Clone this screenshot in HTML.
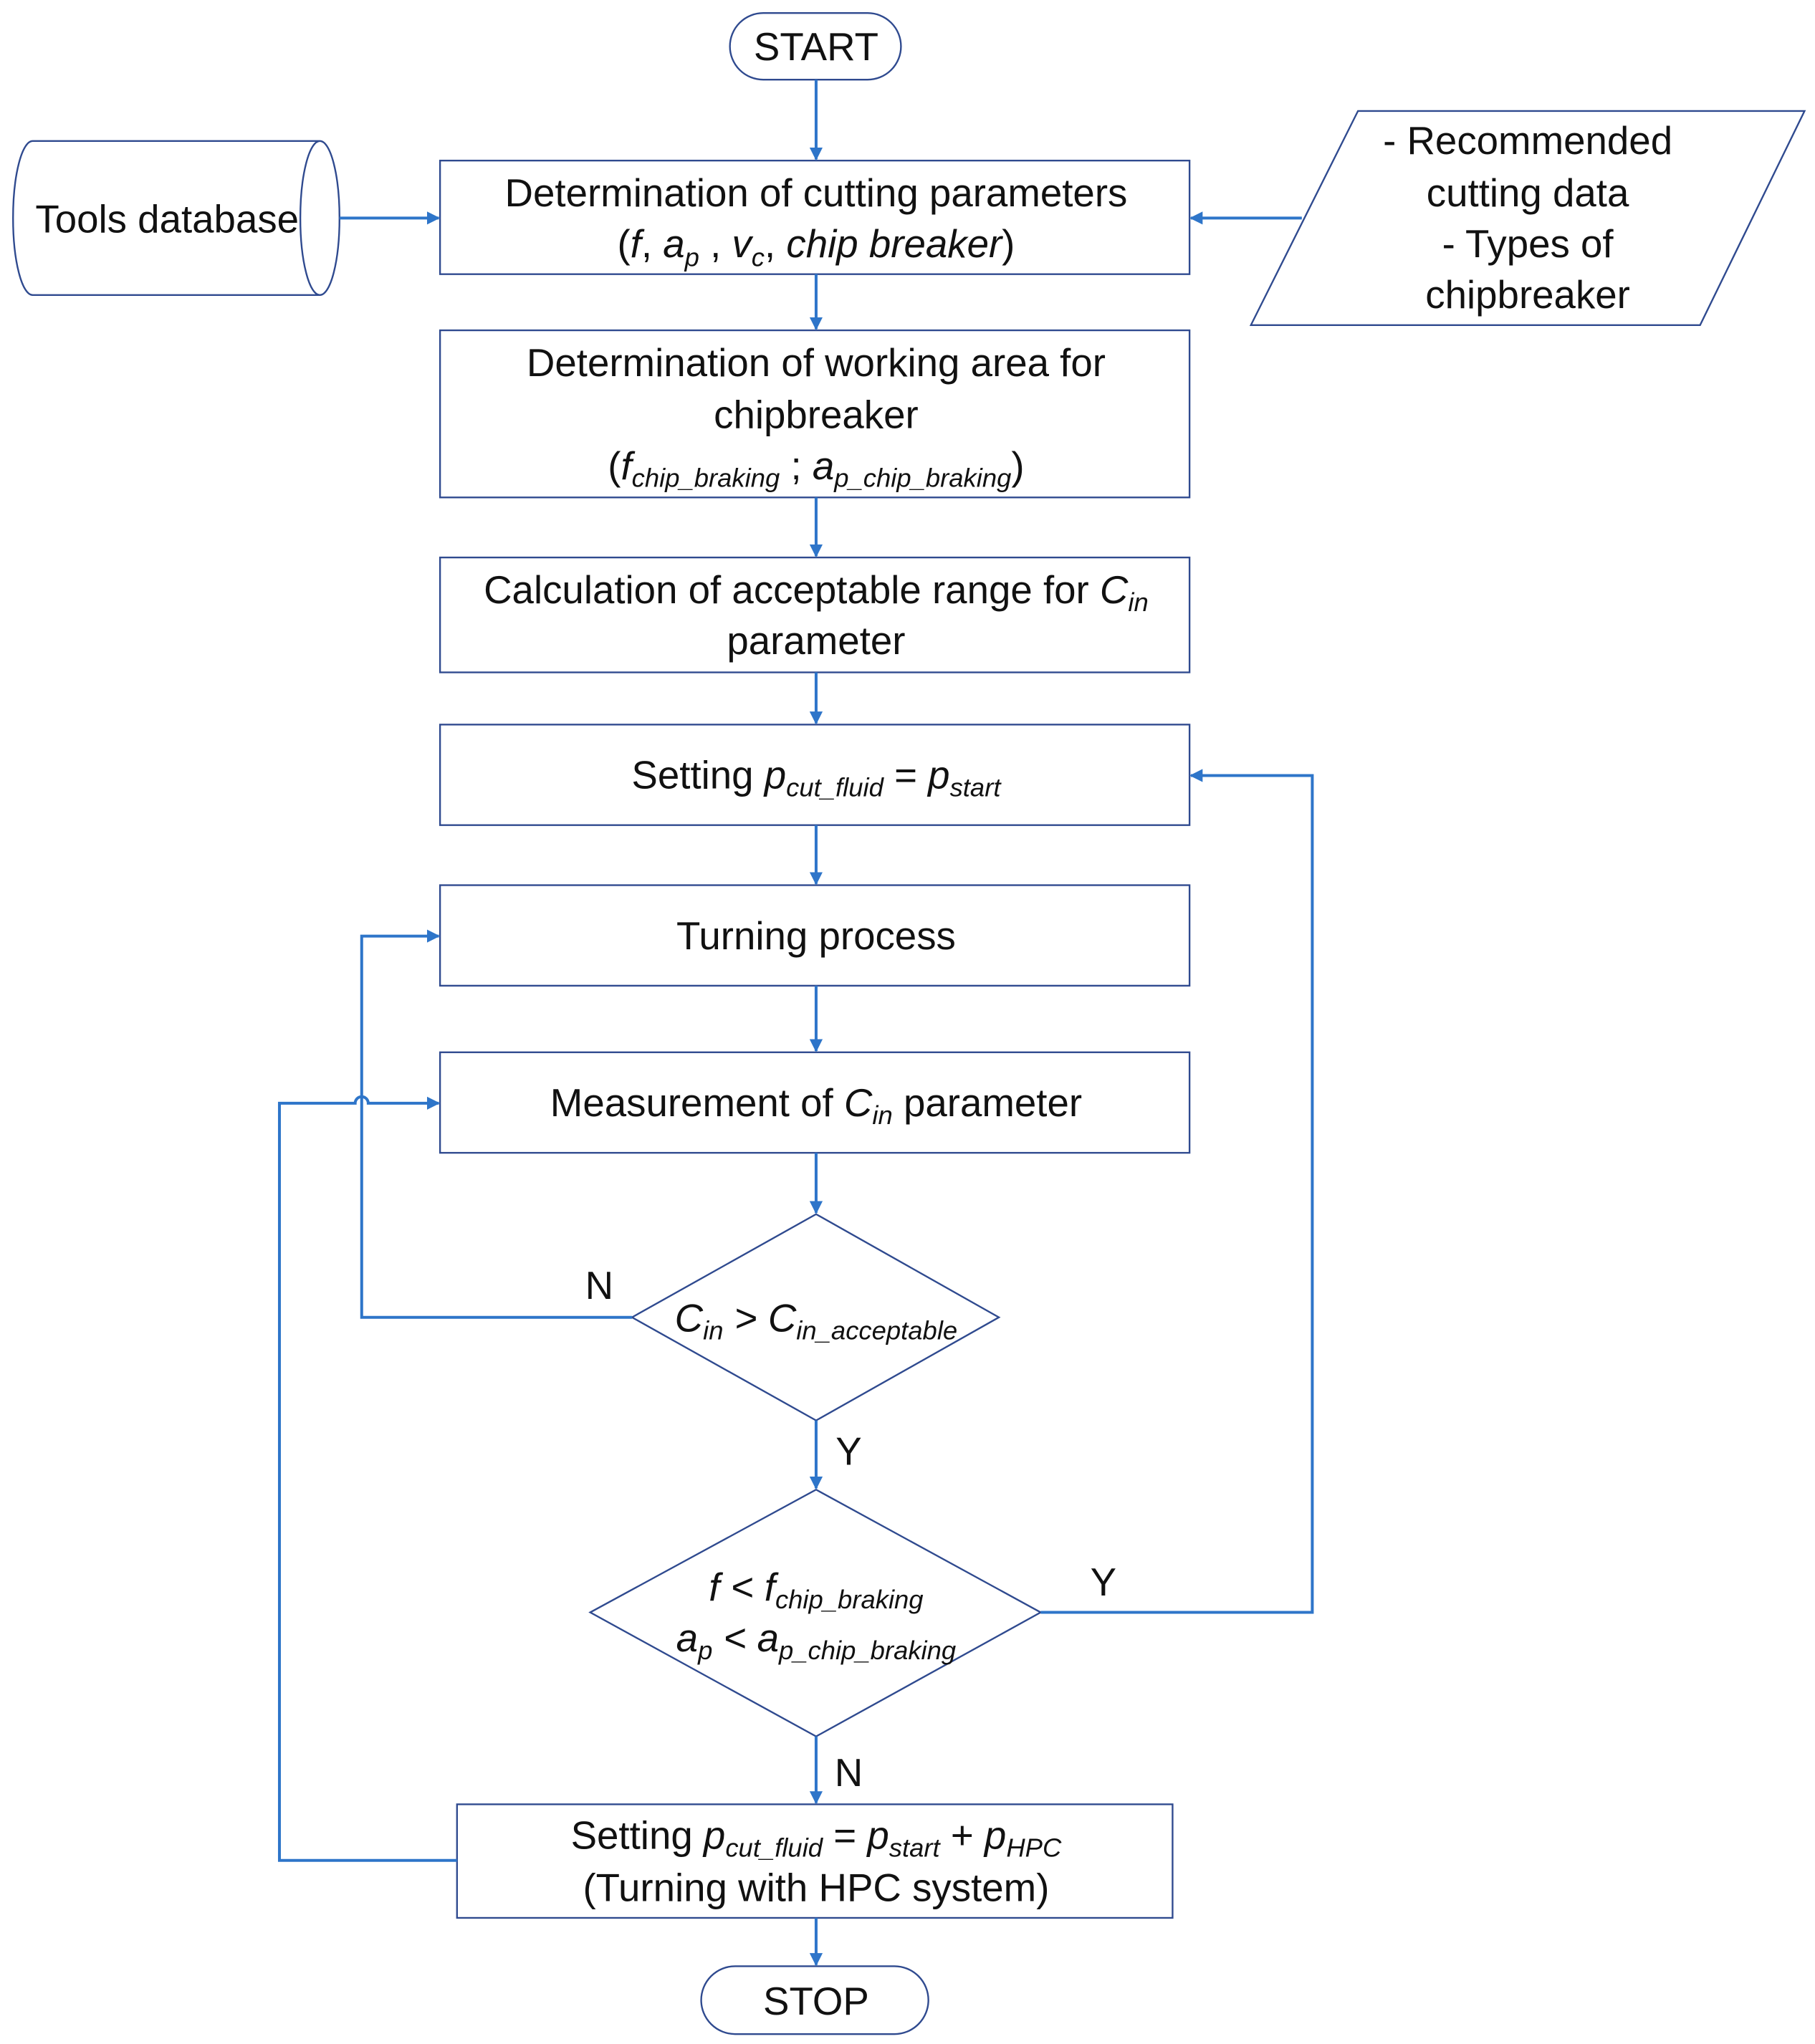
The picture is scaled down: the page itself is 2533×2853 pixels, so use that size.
<!DOCTYPE html>
<html><head><meta charset="utf-8"><style>
html,body{margin:0;padding:0;background:#fff;}
svg{display:block;}
text{font-family:"Liberation Sans",sans-serif;font-size:30px;fill:#111;}
.s{font-size:20px;}
</style></head><body>
<svg width="2533" height="2853" viewBox="0 0 1390 1565.6" preserveAspectRatio="none" xmlns="http://www.w3.org/2000/svg">
<defs><marker id="a" markerWidth="10" markerHeight="10" refX="9" refY="5" orient="auto" markerUnits="userSpaceOnUse"><path d="M0,0 L10,5 L0,10 z" fill="#2e75c9"/></marker></defs>
<g fill="#fff" stroke="#2f4a8f" stroke-width="1.3">
<rect x="559" y="10" width="131" height="51" rx="25.5"/>
<rect x="337" y="123" width="574" height="87"/>
<path d="M25,108 H245 M25,226 H245 M25,108 A15,59 0 0 0 25,226 M245,108 A15,59 0 0 1 245,226 A15,59 0 0 1 245,108"/>
<path d="M1040,85 L1382,85 L1302,249 L958,249 Z"/>
<rect x="337" y="253" width="574" height="128"/>
<rect x="337" y="427" width="574" height="88"/>
<rect x="337" y="555" width="574" height="77"/>
<rect x="337" y="678" width="574" height="77"/>
<rect x="337" y="806" width="574" height="77"/>
<path d="M625,930 L765,1009 L625,1088 L484,1009 Z"/>
<path d="M625,1141 L797,1235 L625,1330 L452,1235 Z"/>
<rect x="350" y="1382" width="548" height="87"/>
<rect x="537" y="1506" width="174" height="52" rx="26"/>
</g>
<g fill="none" stroke="#2e75c9" stroke-width="2.2">
<path d="M625,61 V122" marker-end="url(#a)"/>
<path d="M260,167 H336" marker-end="url(#a)"/>
<path d="M997,167 H912" marker-end="url(#a)"/>
<path d="M625,210 V252" marker-end="url(#a)"/>
<path d="M625,381 V426" marker-end="url(#a)"/>
<path d="M625,515 V554" marker-end="url(#a)"/>
<path d="M625,632 V677" marker-end="url(#a)"/>
<path d="M625,755 V805" marker-end="url(#a)"/>
<path d="M625,883 V929" marker-end="url(#a)"/>
<path d="M484,1009 H277 V717 H336" marker-end="url(#a)"/>
<path d="M625,1088 V1140" marker-end="url(#a)"/>
<path d="M797,1235 H1005 V594 H912" marker-end="url(#a)"/>
<path d="M625,1330 V1381" marker-end="url(#a)"/>
<path d="M350,1425 H214 V845 H272 A5,5 0 0 1 282,845 H336" marker-end="url(#a)"/>
<path d="M625,1469 V1505" marker-end="url(#a)"/>
</g>
<g text-anchor="middle">
<text x="625" y="46">START</text>
<text x="128" y="178">Tools database</text>
<text x="625" y="158">Determination of cutting parameters</text>
<text x="625" y="197">(<tspan font-style="italic">f</tspan>, <tspan font-style="italic">a<tspan class="s" dy="7">p</tspan></tspan><tspan dy="-7"> , </tspan><tspan font-style="italic">v<tspan class="s" dy="7">c</tspan></tspan><tspan dy="-7">, </tspan><tspan font-style="italic">chip breaker</tspan>)</text>
<text x="1170" y="118">- Recommended</text>
<text x="1170" y="158">cutting data</text>
<text x="1170" y="197">- Types of</text>
<text x="1170" y="236">chipbreaker</text>
<text x="625" y="288">Determination of working area for</text>
<text x="625" y="328">chipbreaker</text>
<text x="625" y="367">(<tspan font-style="italic">f<tspan class="s" dy="6">chip_braking</tspan></tspan><tspan dy="-6"> ; </tspan><tspan font-style="italic">a<tspan class="s" dy="6">p_chip_braking</tspan></tspan><tspan dy="-6">)</tspan></text>
<text x="625" y="462">Calculation of acceptable range for <tspan font-style="italic">C<tspan class="s" dy="6">in</tspan></tspan></text>
<text x="625" y="501">parameter</text>
<text x="625" y="604">Setting <tspan font-style="italic">p<tspan class="s" dy="6">cut_fluid</tspan></tspan><tspan dy="-6"> = </tspan><tspan font-style="italic">p<tspan class="s" dy="6">start</tspan></tspan></text>
<text x="625" y="727">Turning process</text>
<text x="625" y="855">Measurement of <tspan font-style="italic">C<tspan class="s" dy="6">in</tspan></tspan><tspan dy="-6"> parameter</tspan></text>
<text x="625" y="1020" font-style="italic">C<tspan class="s" dy="6">in</tspan><tspan dy="-6"> &gt; C</tspan><tspan class="s" dy="6">in_acceptable</tspan></text>
<text x="625" y="1226" font-style="italic">f &lt; f<tspan class="s" dy="6">chip_braking</tspan></text>
<text x="625" y="1265" font-style="italic">a<tspan class="s" dy="6">p</tspan><tspan dy="-6"> &lt; a</tspan><tspan class="s" dy="6">p_chip_braking</tspan></text>
<text x="625" y="1416">Setting <tspan font-style="italic">p<tspan class="s" dy="6">cut_fluid</tspan></tspan><tspan dy="-6"> = </tspan><tspan font-style="italic">p<tspan class="s" dy="6">start</tspan></tspan><tspan dy="-6"> + </tspan><tspan font-style="italic">p<tspan class="s" dy="6">HPC</tspan></tspan></text>
<text x="625" y="1456">(Turning with HPC system)</text>
<text x="625" y="1543">STOP</text>
<text x="459" y="995">N</text>
<text x="650" y="1122">Y</text>
<text x="845" y="1222">Y</text>
<text x="650" y="1368">N</text>
</g>
</svg>
</body></html>
